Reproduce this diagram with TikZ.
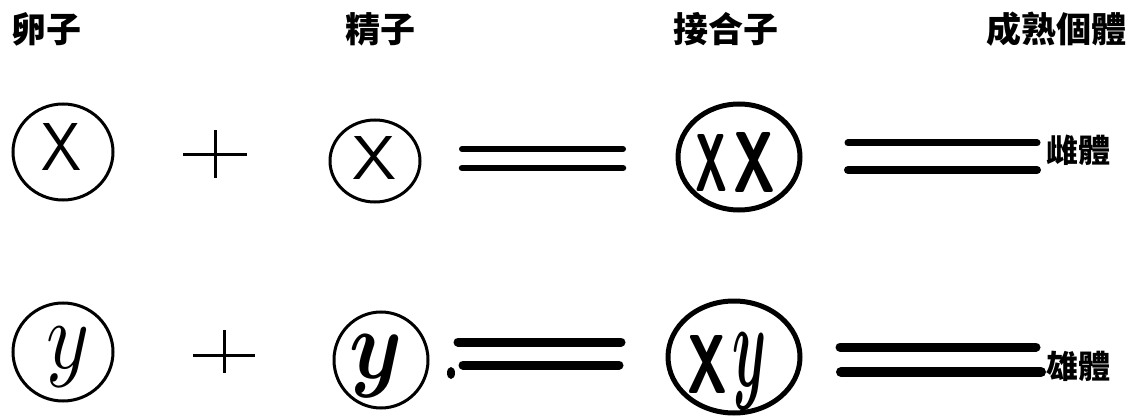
\documentclass[tikz,border=0pt]{standalone}
\usepackage{fontspec}
\usepackage{graphicx}
\newfontfamily\cjk{Noto Sans CJK TC}
\usetikzlibrary{shapes.geometric}
\newcommand{\gly}[3]{\resizebox*{#1pt}{#2pt}{#3}}
\newcommand{\bx}{{\sffamily\bfseries X}}
\newcommand{\by}{{\boldmath$y$}}
\tikzset{
  cell/.style={draw, ellipse, line width=3pt, inner sep=0pt},
  zyg/.style={cell, line width=5pt},
  letter/.style={inner sep=0pt, anchor=center},
  bar/.style={line width=#1, line cap=round},
  bar/.default=6pt,
  plusline/.style={line width=3pt},
  hdr/.style={font=\cjk\bfseries\fontsize{35}{40}\selectfont, inner sep=0pt},
  lbl/.style={font=\cjk\bfseries\fontsize{32}{36}\selectfont, inner sep=0pt},
}
\begin{document}
\begin{tikzpicture}[x=1pt, y=-1pt]
\fill[white] (0,0) rectangle (1130,417);
\useasboundingbox (0,0) rectangle (1130,417);

% headers
\node[hdr] (h1) at (47,29) {卵子};
\node[hdr] (h2) at (380,29) {精子};
\node[hdr] (h3) at (726,29) {接合子};
\node[hdr] (h4) at (1056,29) {成熟個體};

% row 1
\node[cell, minimum width=100pt, minimum height=96pt] (e1) at (63,152) {};
\node[letter] (e1x) at (62,147) {\gly{40}{47}{\sffamily X}};
\coordinate (p1) at (215,155);
\draw[plusline] ([xshift=-32pt]p1) -- ([xshift=32pt]p1);
\draw[plusline] ([yshift=-23pt]p1) -- ([yshift=25pt]p1);
\node[cell, minimum width=90pt, minimum height=82pt] (s1) at (375,161) {};
\node[letter] (s1x) at (375,158) {\gly{44}{43}{\sffamily X}};
\coordinate (a1) at (462,149); \coordinate (b1) at (623,149);
\coordinate (c1) at (462,168); \coordinate (d1) at (623,168);
\draw[bar=6pt] (a1) -- (b1);
\draw[bar=6.5pt] (c1) -- (d1);
\node[zyg, minimum width=122pt, minimum height=106pt] (z1) at (739,157) {};
\node[letter] (z1x) at (711,163) {\gly{32}{57}{\bx}};
\node[letter] (z1y) at (754,162) {\gly{42}{60}{\bx}};
\coordinate (f1) at (848,143); \coordinate (g1) at (1037,143);
\coordinate (k1) at (848,170); \coordinate (m1) at (1037,170);
\draw[bar=7pt] (f1) -- (g1);
\draw[bar=8pt] (k1) -- (m1);
\node[lbl] (l1) at (1078,150) {雌體};

% row 2
\node[cell, minimum width=100pt, minimum height=98pt] (e2) at (63,352) {};
\node[letter] (e2y) at (68,357) {\gly{43}{60}{$y$}};
\coordinate (p2) at (224,355);
\draw[plusline] ([xshift=-31pt]p2) -- ([xshift=31pt]p2);
\draw[plusline] ([yshift=-18pt]p2) -- ([yshift=25pt]p2);
\node[cell, minimum width=94pt, minimum height=96pt] (s2) at (381,360) {};
\node[letter] (s2y) at (376,366) {\gly{53}{63}{\by}};
\node[fill, ellipse, inner sep=0pt, minimum width=8pt, minimum height=12pt] (dot) at (451,373) {};
\coordinate (a2) at (458,342); \coordinate (b2) at (621,342);
\coordinate (c2) at (463,365); \coordinate (d2) at (619,365);
\draw[bar=9pt] (a2) -- (b2);
\draw[bar=9pt] (c2) -- (d2);
\node[zyg, minimum width=132pt, minimum height=112pt] (z2) at (734,357) {};
\node[letter] (z2x) at (707,364) {\gly{40}{58}{\bx}};
\node[letter] (z2y) at (750,371) {\gly{34}{77}{\by}};
\coordinate (f2) at (840,347); \coordinate (g2) at (1036,347);
\coordinate (k2) at (841,372); \coordinate (m2) at (1041,372);
\draw[bar=9pt] (f2) -- (g2);
\draw[bar=10pt] (k2) -- (m2);
\node[lbl] (l2) at (1078,366) {雄體};
\end{tikzpicture}
\end{document}
